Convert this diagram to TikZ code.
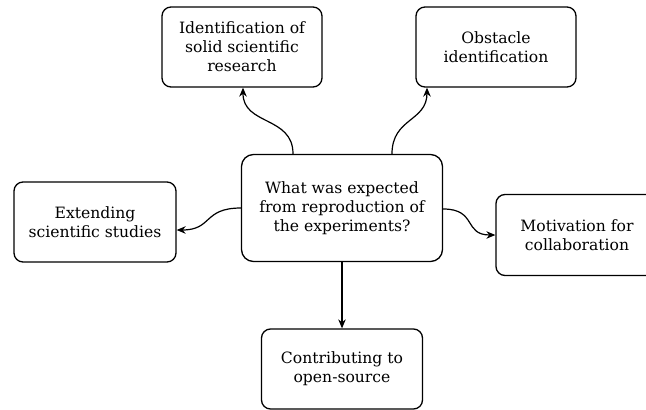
\documentclass[tikz,border=0pt]{standalone}
\usepackage{fontspec}
\setmainfont{DejaVu Serif}
\usetikzlibrary{arrows.meta,calc}
\begin{document}
\begin{tikzpicture}[x=1pt,y=-1pt,
  box/.style={draw, line width=1.3pt, rounded corners=9pt, align=center,
    inner sep=0pt, font=\fontsize{15.6}{19}\selectfont},
  link/.style={line width=1.2pt, -{Stealth[length=9pt,width=7.5pt]}}]
  \clip (0,0) rectangle (646,410);
  \fill[white] (0,0) rectangle (646,410);

  \node[box, minimum width=201pt, minimum height=107pt, rounded corners=12pt]
    (center) at (342,208) {What was expected\\from reproduction of\\the experiments?};
  \node[box, minimum width=160pt, minimum height=80pt]
    (research) at (242,47) {Identification of\\solid scientific\\research};
  \node[box, minimum width=160pt, minimum height=80pt]
    (obstacle) at (496,47) {Obstacle\\identification};
  \node[box, minimum width=162pt, minimum height=80pt]
    (extend) at (95,222) {Extending\\scientific studies};
  \node[box, minimum width=162pt, minimum height=81pt]
    (motivation) at (577,235) {Motivation for\\collaboration};
  \node[box, minimum width=161pt, minimum height=80pt]
    (contrib) at (342,369) {Contributing to\\open-source};

  % curved connectors leaving the central question
  \draw[link] ($(center.north)+(-49,0)$)
    .. controls +(0,-38) and +(0,38) .. ($(research.south)+(1,0)$);
  \draw[link] ($(center.north)+(50,0)$)
    .. controls +(0,-36) and +(0,34) .. ($(obstacle.south)+(-69,0)$);
  \draw[link] ($(center.west)+(0,0)$)
    .. controls +(-38,0) and +(36,0) .. ($(extend.east)+(0,8)$);
  \draw[link] ($(center.east)+(0,1)$)
    .. controls +(34,0) and +(-32,0) .. ($(motivation.west)+(0,0)$);
  \draw[link] (center.south) -- (contrib.north);
\end{tikzpicture}
\end{document}
